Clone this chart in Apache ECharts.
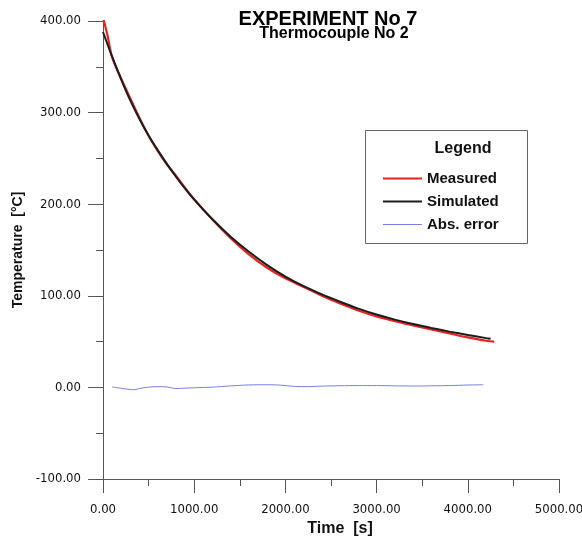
<!DOCTYPE html>
<html>
<head>
<meta charset="utf-8">
<script src="https://cdn.jsdelivr.net/npm/echarts@6/dist/echarts.min.js"></script>
<style>
	html,body{margin:0;padding:0;background:#fff;}
	#chart{width:582px;height:544px;}
</style>
</head>
<body>
<div id="chart"></div>
<script>
// values
var timeMeasured = [0, 50, 100, 200, 300, 400, 500, 600, 700, 800, 900, 1000, 1200, 1400, 1600, 1800, 2000, 2200, 2400, 2600, 2800, 3000, 3200, 3400, 3600, 3800, 4000, 4200, 4290];
var measured = [404, 384, 360.5, 337, 315.3, 294.2, 274.7, 258.2, 243.5, 231.2, 217.8, 205.4, 183.2, 162.9, 145.3, 130.6, 119, 109.7, 100.1, 91.7, 84, 77.5, 72.3, 67.7, 63.2, 58.9, 54.6, 50.9, 50];

var timeSimulated = [0, 100, 200, 300, 400, 500, 600, 700, 800, 900, 1000, 1200, 1400, 1600, 1800, 2000, 2200, 2400, 2600, 2800, 3000, 3200, 3400, 3600, 3800, 4000, 4200, 4250];
var simulated = [388, 361, 336, 313, 293, 275, 259, 244, 230, 217, 205, 183.5, 164.5, 148, 133.5, 121, 110.5, 101.5, 93.5, 86, 79.5, 74, 69.2, 64.9, 60.9, 57.2, 53.8, 53];

var timeError = [100, 200, 300, 350, 400, 500, 600, 700, 800, 900, 1000, 1200, 1400, 1600, 1800, 1950, 2100, 2250, 2400, 2600, 2800, 3000, 3200, 3400, 3600, 3800, 4000, 4170];
var absError = [0.5, -1, -2.3, -2.5, -1.2, 0.3, 0.8, 0.5, -1.2, -0.8, -0.4, 0.3, 1.6, 2.7, 2.9, 2.5, 1, 0.8, 1.4, 1.8, 2, 2, 1.7, 1.5, 1.7, 2, 2.6, 2.9];

var seriesNames = ['Measured', 'Simulated', 'Abs. error'];

function pairs(xs, ys){
	var out = [];
	for(var i = 0; i < xs.length; i++){
		out.push([xs[i], ys[i]]);
	}
	return out;
}

var labelFont = 'DejaVu Sans Condensed, DejaVu Sans, sans-serif';
var boldFont = 'Liberation Sans, Arial, sans-serif';

var myChart = echarts.init(document.getElementById('chart'));
var option = {
	animation: false,
	backgroundColor: '#fff',
	grid: {left: 103, right: 23, top: 21, bottom: 65, containLabel: false, outerBoundsMode: 'none'},
	graphic: [
		{type: 'text', x: 328, y: 19, style: {text: 'EXPERIMENT No 7', align: 'center', verticalAlign: 'middle', fontFamily: boldFont, fontWeight: 'bold', fontSize: 20, fill: '#000'}},
		{type: 'text', x: 334, y: 34, style: {text: 'Thermocouple No 2', align: 'center', verticalAlign: 'middle', fontFamily: boldFont, fontWeight: 'bold', fontSize: 16, fill: '#000'}},
		// legend frame
		{type: 'rect', shape: {x: 365.5, y: 130.5, width: 162, height: 113}, style: {fill: '#fff', stroke: '#666', lineWidth: 1}, z: 5},
		{type: 'text', x: 463, y: 149, style: {text: 'Legend', align: 'center', verticalAlign: 'middle', fontFamily: boldFont, fontWeight: 'bold', fontSize: 16, fill: '#111'}, z: 6}
	],
	legend: {
		// plain line samples, no symbol
		data: [
			{name: seriesNames[0], icon: 'path://M0,0 L39,0 L39,2 L0,2 Z'},
			{name: seriesNames[1], icon: 'path://M0,0 L39,0 L39,2 L0,2 Z'},
			{name: seriesNames[2], icon: 'path://M0,0 L39,0 L39,1 L0,1 Z'}
		],
		orient: 'vertical',
		left: 383,
		top: 171,
		padding: 0,
		itemWidth: 39,
		itemHeight: 14,
		itemGap: 8,
		z: 7,
		textStyle: {fontFamily: boldFont, fontWeight: 'bold', fontSize: 15, color: '#111'}
	},
	xAxis: {
		type: 'value',
		min: 0,
		max: 5000,
		interval: 1000,
		name: 'Time  [s]',
		nameLocation: 'middle',
		nameGap: 35,
		nameTextStyle: {fontFamily: boldFont, fontWeight: 'bold', fontSize: 16, color: '#111', padding: [0, 0, 0, 18]},
		axisLine: {onZero: false, lineStyle: {color: '#555', width: 1}},
		axisTick: {length: 14, lineStyle: {color: '#555'}},
		minorTick: {show: true, splitNumber: 2, length: 7, lineStyle: {color: '#555'}},
		splitLine: {show: false},
		axisLabel: {margin: 24, fontFamily: labelFont, fontSize: 13, color: '#111', formatter: function(v){ return v.toFixed(2); }}
	},
	yAxis: {
		type: 'value',
		min: -100,
		max: 400,
		interval: 100,
		name: 'Temperature  [°C]',
		nameLocation: 'middle',
		nameGap: 78,
		nameTextStyle: {fontFamily: boldFont, fontWeight: 'bold', fontSize: 14, color: '#111'},
		axisLine: {show: true, onZero: false, lineStyle: {color: '#555', width: 1}},
		axisTick: {show: true, length: 15, lineStyle: {color: '#555'}},
		minorTick: {show: true, splitNumber: 2, length: 7, lineStyle: {color: '#555'}},
		splitLine: {show: false},
		axisLabel: {margin: 22, fontFamily: labelFont, fontSize: 13, color: '#111', formatter: function(v){ return v.toFixed(2); }}
	},
	series: [
		{
			name: seriesNames[0],
			type: 'line',
			data: pairs(timeMeasured, measured),
			symbol: 'none',
			smooth: 0.3,
			color: '#e8221e',
			lineStyle: {color: '#e8221e', width: 2.2}
		},
		{
			name: seriesNames[1],
			type: 'line',
			data: pairs(timeSimulated, simulated),
			symbol: 'none',
			smooth: 0.3,
			color: '#1c1c1c',
			lineStyle: {color: '#1c1c1c', width: 2}
		},
		{
			name: seriesNames[2],
			type: 'line',
			data: pairs(timeError, absError),
			symbol: 'none',
			smooth: 0.3,
			color: '#7b80dc',
			lineStyle: {color: '#7b80dc', width: 1}
		}
	]
};
myChart.setOption(option);
</script>
</body>
</html>
